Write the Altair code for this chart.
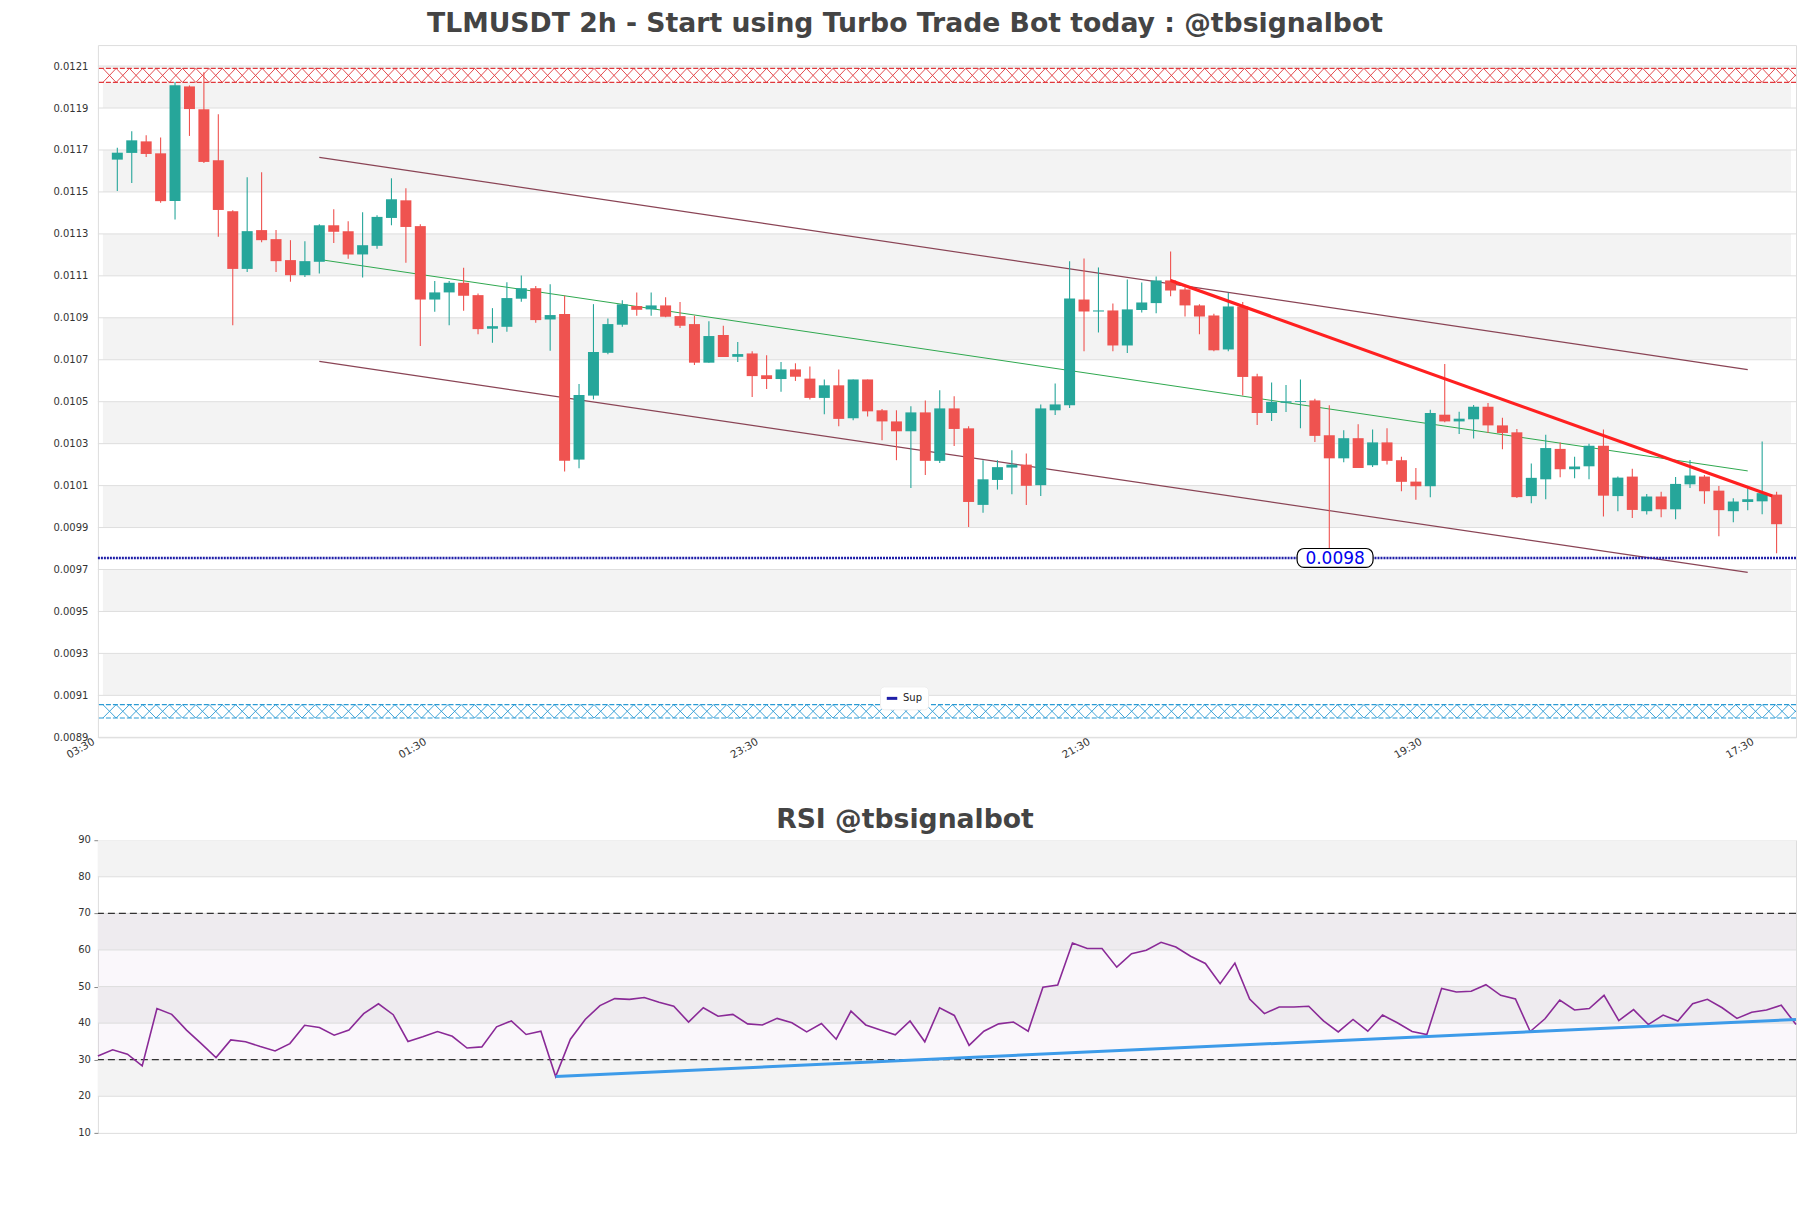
import altair as alt
import pandas as pd
import numpy as np

# ---------------- data ----------------
opens = [0.011654,0.011686,0.011741,0.011684,0.011457,0.012003,0.011894,0.011651,0.011408,0.011133,
         0.011318,0.011275,0.011175,0.011103,0.011167,0.011341,0.011313,0.011202,0.011243,0.011376,
         0.011460,0.011337,0.010987,0.011021,0.011067,0.011008,0.010848,0.010857,0.010991,0.011041,
         0.010892,0.010918,0.010224,0.010529,0.010733,0.010867,0.010956,0.010940,0.010959,0.010908,
         0.010870,0.010686,0.010818,0.010714,0.010730,0.010626,0.010608,0.010654,0.010610,0.010518,
         0.010578,0.010421,0.010606,0.010459,0.010406,0.010359,0.010449,0.010218,0.010468,0.010373,
         0.010008,0.010127,0.010186,0.010200,0.010102,0.010459,0.010483,0.010987,0.010930,0.010935,
         0.010768,0.010937,0.010970,0.011078,0.011035,0.010959,0.010911,0.010749,0.010954,0.010621,
         0.010446,0.010495,0.010499,0.010506,0.010340,0.010230,0.010326,0.010197,0.010306,0.010221,
         0.010119,0.010097,0.010438,0.010406,0.010416,0.010476,0.010387,0.010354,0.010050,0.010130,
         0.010275,0.010178,0.010192,0.010290,0.010050,0.010143,0.009978,0.010048,0.009987,0.010106,
         0.010143,0.010076,0.009978,0.010022,0.010025,0.010057]
highs = [0.011711,0.011789,0.011770,0.011760,0.012024,0.012008,0.012071,0.011870,0.011413,0.011570,
         0.011594,0.011318,0.011270,0.011265,0.011346,0.011418,0.011360,0.011403,0.011389,0.011565,
         0.011518,0.011346,0.011075,0.011075,0.011138,0.011016,0.010946,0.011070,0.011102,0.011052,
         0.011060,0.011005,0.010584,0.010965,0.010897,0.010984,0.011021,0.011021,0.010998,0.010975,
         0.010910,0.010884,0.010862,0.010784,0.010740,0.010721,0.010689,0.010683,0.010668,0.010606,
         0.010654,0.010606,0.010606,0.010465,0.010459,0.010478,0.010506,0.010554,0.010526,0.010383,
         0.010221,0.010221,0.010268,0.010253,0.010487,0.010587,0.011170,0.011183,0.011140,0.010968,
         0.011083,0.011068,0.011097,0.011216,0.011046,0.010964,0.010919,0.011019,0.010975,0.010633,
         0.010592,0.010580,0.010606,0.010514,0.010483,0.010364,0.010392,0.010368,0.010373,0.010237,
         0.010184,0.010462,0.010680,0.010452,0.010484,0.010494,0.010424,0.010370,0.010205,0.010343,
         0.010306,0.010237,0.010300,0.010367,0.010143,0.010180,0.010060,0.010071,0.010141,0.010222,
         0.010151,0.010098,0.010040,0.010087,0.010310,0.010071]
lows = [0.011505,0.011543,0.011667,0.011448,0.011368,0.011767,0.011638,0.011286,0.010865,0.011118,
        0.011260,0.011118,0.011072,0.011095,0.011111,0.011257,0.011181,0.011092,0.011229,0.011341,
        0.011162,0.010765,0.010929,0.010865,0.010933,0.010821,0.010781,0.010833,0.010976,0.010876,
        0.010743,0.010167,0.010183,0.010511,0.010726,0.010857,0.010910,0.010910,0.010902,0.010851,
        0.010675,0.010686,0.010713,0.010689,0.010522,0.010560,0.010548,0.010599,0.010511,0.010440,
        0.010383,0.010411,0.010430,0.010316,0.010221,0.010089,0.010150,0.010208,0.010289,0.009903,
        0.009970,0.010081,0.010059,0.010008,0.010050,0.010437,0.010470,0.010740,0.010830,0.010741,
        0.010732,0.010925,0.010922,0.011003,0.010906,0.010821,0.010741,0.010741,0.010530,0.010389,
        0.010408,0.010451,0.010374,0.010308,0.009800,0.010211,0.010184,0.010189,0.010200,0.010073,
        0.010032,0.010045,0.010402,0.010346,0.010325,0.010351,0.010273,0.010041,0.010016,0.010035,
        0.010140,0.010135,0.010130,0.009953,0.009978,0.009946,0.009962,0.009949,0.009940,0.010089,
        0.010014,0.009859,0.009925,0.009983,0.009964,0.009778]
closes = [0.011687,0.011746,0.011681,0.011456,0.012008,0.011895,0.011643,0.011414,0.011133,0.011313,
          0.011270,0.011170,0.011103,0.011170,0.011341,0.011310,0.011202,0.011246,0.011381,0.011465,
          0.011333,0.010987,0.011021,0.011067,0.011005,0.010846,0.010860,0.010994,0.011041,0.010889,
          0.010913,0.010219,0.010532,0.010737,0.010870,0.010964,0.010938,0.010959,0.010905,0.010862,
          0.010686,0.010813,0.010713,0.010727,0.010622,0.010608,0.010654,0.010619,0.010518,0.010578,
          0.010418,0.010606,0.010454,0.010406,0.010359,0.010449,0.010218,0.010468,0.010370,0.010022,
          0.010130,0.010188,0.010200,0.010099,0.010468,0.010487,0.010992,0.010930,0.010935,0.010768,
          0.010940,0.010973,0.011078,0.011030,0.010959,0.010906,0.010745,0.010954,0.010618,0.010446,
          0.010499,0.010502,0.010503,0.010337,0.010230,0.010326,0.010184,0.010306,0.010218,0.010118,
          0.010097,0.010446,0.010406,0.010419,0.010476,0.010387,0.010351,0.010045,0.010137,0.010279,
          0.010178,0.010191,0.010290,0.010052,0.010138,0.009984,0.010048,0.009987,0.010108,0.010148,
          0.010073,0.009983,0.010024,0.010035,0.010064,0.009916]
rsi = [31.0,32.7,31.5,28.3,44.0,42.4,38.1,34.4,30.6,35.4,34.9,33.6,32.4,34.4,39.4,38.8,36.7,38.1,42.6,45.3,
       42.3,35.0,36.3,37.7,36.4,33.2,33.5,39.0,40.6,36.9,37.8,25.4,35.6,41.0,44.8,46.7,46.5,47.0,45.7,44.6,
       40.3,44.2,41.9,42.4,39.8,39.5,41.3,40.1,37.6,39.9,35.6,43.3,39.5,38.1,36.8,40.6,34.9,44.2,42.1,33.9,
       37.8,39.8,40.3,37.8,49.8,50.4,61.9,60.4,60.4,55.3,59.0,59.9,62.1,60.8,58.3,56.3,50.8,56.4,46.6,42.6,
       44.4,44.4,44.6,40.6,37.6,41.0,37.8,42.2,40.1,37.7,36.9,49.5,48.5,48.7,50.5,47.6,46.6,37.7,41.2,46.3,
       43.6,44.0,47.6,40.7,43.7,39.6,42.2,40.6,45.3,46.5,44.2,41.3,43.0,43.6,44.9,39.6]

tick_idx = [0, 23, 46, 69, 92, 115]
tick_lbl = ["03:30", "01:30", "23:30", "21:30", "19:30", "17:30"]
price_ticks = [0.0089, 0.0091, 0.0093, 0.0095, 0.0097, 0.0099, 0.0101, 0.0103, 0.0105,
               0.0107, 0.0109, 0.0111, 0.0113, 0.0115, 0.0117, 0.0119, 0.0121]
grey_bands_lo = [0.0091, 0.0095, 0.0099, 0.0103, 0.0107, 0.0111, 0.0115, 0.0119]
grey_bands_hi = [0.0093, 0.0097, 0.0101, 0.0105, 0.0109, 0.0113, 0.0117, 0.0121]

# channel and trend lines (index, price)
upper_x = [15, 114]; upper_y = [0.011665, 0.010653]
lower_x = [15, 114]; lower_y = [0.010692, 0.009686]
mid_x = [15, 114];   mid_y = [0.011178, 0.010170]
red_x = [74, 115.7]; red_y = [0.011078, 0.010050]

support = 0.009755
support_label = "0.0098"
support_label_idx = 85.4
res_band = [0.012022, 0.012089]
sup_band = [0.008992, 0.009056]

rsi_ticks = [10, 15, 20, 25, 30, 35, 40, 45, 50, 55, 60, 65, 70, 75, 80, 85, 90]
rsi_label_vals = [10, 20, 30, 40, 50, 60, 70, 80, 90]
rsi_label_txt = ["10", "20", "30", "40", "50", "60", "70", "80", "90"]
rsi_grid = [20, 30, 40, 50, 60, 70, 80]
rsi_bands_lo = [20, 40, 60, 80]
rsi_bands_hi = [30, 50, 70, 90]
rsi_trend_x = [32, 116]; rsi_trend_y = [25.4, 41.0]

X_MAX = 117
W, H1, H2 = 1700, 693, 293
FONT = "DejaVu Sans"
GREEN, RED = "#26a69a", "#ef5350"

# ---------------- frames ----------------
n = len(opens)
candles = pd.DataFrame({"i": np.arange(1, n + 1), "open": opens, "high": highs,
                        "low": lows, "close": closes})
bands = pd.DataFrame({"lo": grey_bands_lo, "hi": grey_bands_hi, "x0": 0, "x1": X_MAX})
grid = pd.DataFrame({"p": price_ticks})

xs = alt.Scale(domain=[0, X_MAX], nice=False, zero=False)
ys = alt.Scale(domain=[0.0089, 0.0122], nice=False, zero=False)

label_expr = " : ".join(f"datum.value == {i} ? '{l}'" for i, l in zip(tick_idx, tick_lbl)) + " : ''"
x_axis = alt.Axis(values=tick_idx, labelExpr=label_expr, labelAngle=330, labelAlign="right",
                  labelBaseline="top", labelFontSize=10.5, labelColor="#333", labelFont=FONT,
                  ticks=False, domain=False, grid=False, labelPadding=-1, labelOffset=-12,
                  labelOverlap=False, title=None)
y_axis = alt.Axis(values=price_ticks, format=".4f", labelFontSize=10, labelColor="#333",
                  labelFont=FONT, ticks=False, domain=False, grid=False, labelPadding=10,
                  labelOverlap=False, minExtent=80, maxExtent=80, title=None)

band_layer = alt.Chart(bands).mark_rect(color="#f3f3f3").encode(
    x=alt.X("x0:Q", scale=xs, axis=x_axis), x2="x1:Q",
    y=alt.Y("lo:Q", scale=ys, axis=y_axis), y2="hi:Q")
grid_layer = alt.Chart(grid).mark_rule(color="#dedede", strokeWidth=1).encode(
    y=alt.Y("p:Q", scale=ys))


def hatch(lo, hi, key):
    step = 0.92
    xv = np.arange(0, X_MAX + 2 * step, step)
    rows = []
    for ph in (0, 1):
        for k, x in enumerate(xv):
            rows.append({"x": x, "y": hi if (k + ph) % 2 == 0 else lo, "g": f"{key}{ph}", "k": k})
    return pd.DataFrame(rows)


def hatch_layers(lo, hi, color, key):
    box = alt.Chart(pd.DataFrame({"lo": [lo], "hi": [hi], "x0": [0], "x1": [X_MAX]})).mark_rect(
        color="white").encode(x=alt.X("x0:Q", scale=xs), x2="x1:Q",
                              y=alt.Y("lo:Q", scale=ys), y2="hi:Q")
    lines = alt.Chart(hatch(lo, hi, key)).mark_line(color=color, strokeWidth=0.9, clip=True).encode(
        x=alt.X("x:Q", scale=xs), y=alt.Y("y:Q", scale=ys), detail="g:N", order="k:Q")
    edges = alt.Chart(pd.DataFrame({"p": [lo, hi]})).mark_rule(
        color=color, strokeWidth=1.2, strokeDash=[5, 2]).encode(y=alt.Y("p:Q", scale=ys))
    return [box, lines, edges]


def seg(xv, yv, color, width):
    return alt.Chart(pd.DataFrame({"x": xv, "y": yv})).mark_line(
        color=color, strokeWidth=width).encode(x=alt.X("x:Q", scale=xs), y=alt.Y("y:Q", scale=ys))


col = alt.condition("datum.close >= datum.open", alt.value(GREEN), alt.value(RED))
wicks = alt.Chart(candles).mark_rule(strokeWidth=1.1).encode(
    x=alt.X("i:Q", scale=xs), y=alt.Y("low:Q", scale=ys), y2="high:Q", color=col)
bodies = alt.Chart(candles).mark_bar(width=11).encode(
    x=alt.X("i:Q", scale=xs), y=alt.Y("open:Q", scale=ys), y2="close:Q", color=col)

sup_df = pd.DataFrame({"p": [support], "name": ["Sup"]})
sup_line = alt.Chart(sup_df).mark_rule(strokeWidth=2.5, strokeDash=[2, 1]).encode(
    y=alt.Y("p:Q", scale=ys),
    color=alt.Color("name:N", scale=alt.Scale(domain=["Sup"], range=["#1f1fa8"]),
                    legend=alt.Legend(title=None, orient="none", legendX=783, legendY=642,
                                      symbolType="stroke", symbolStrokeWidth=3, symbolSize=110,
                                      labelFontSize=10, labelFont=FONT, labelColor="#222",
                                      fillColor="white", padding=5, cornerRadius=4,
                                      strokeColor="#eeeeee")))
lab_df = pd.DataFrame({"x": [support_label_idx], "p": [support], "t": [support_label]})
lab_box = alt.Chart(lab_df).mark_rect(width=76, height=19, cornerRadius=7, fill="white",
                                      stroke="black", strokeWidth=1.2).encode(
    x=alt.X("x:Q", scale=xs), y=alt.Y("p:Q", scale=ys))
lab_txt = alt.Chart(lab_df).mark_text(fontSize=17, color="#0000ee", font=FONT, baseline="middle",
                                      dy=1).encode(
    x=alt.X("x:Q", scale=xs), y=alt.Y("p:Q", scale=ys), text="t:N")

top = alt.layer(
    band_layer, grid_layer,
    *hatch_layers(res_band[0], res_band[1], "#e0383c", "r"),
    *hatch_layers(sup_band[0], sup_band[1], "#2a9ad4", "b"),
    seg(upper_x, upper_y, "#8a4455", 1.2),
    seg(lower_x, lower_y, "#8a4455", 1.2),
    seg(mid_x, mid_y, "#2ea84e", 1.0),
    wicks, bodies,
    seg(red_x, red_y, "#ff2020", 3.2),
    sup_line, lab_box, lab_txt,
).properties(
    width=W, height=H1,
    title=alt.TitleParams("TLMUSDT 2h - Start using Turbo Trade Bot today : @tbsignalbot",
                          fontSize=26.7, fontWeight="bold", color="#444", font=FONT,
                          anchor="middle", dx=-42, offset=7.5))

# ---------------- RSI panel ----------------
rx = alt.Scale(domain=[1, n], nice=False, zero=False)
ry = alt.Scale(domain=[10, 90], nice=False, zero=False)
rsi_df = pd.DataFrame({"i": np.arange(1, n + 1), "rsi": rsi})
rsi_axis = alt.Axis(values=rsi_ticks, labels=False, tickSize=4, tickColor="#888",
                    domain=False, grid=False, minExtent=80, maxExtent=80, title=None)

rb = pd.DataFrame({"lo": rsi_bands_lo, "hi": rsi_bands_hi, "x0": 1, "x1": n})
r_bands = alt.Chart(rb).mark_rect(color="#f3f3f3").encode(
    x=alt.X("x0:Q", scale=rx, axis=None), x2="x1:Q",
    y=alt.Y("lo:Q", scale=ry, axis=rsi_axis), y2="hi:Q")
r_hatch = alt.Chart(pd.DataFrame({"lo": [30], "hi": [70], "x0": [1], "x1": [n]})).mark_rect(
    color="#9b5fae", opacity=0.05).encode(x=alt.X("x0:Q", scale=rx), x2="x1:Q",
                                           y=alt.Y("lo:Q", scale=ry), y2="hi:Q")
r_grid = alt.Chart(pd.DataFrame({"p": rsi_grid})).mark_rule(color="#dedede").encode(
    y=alt.Y("p:Q", scale=ry))
r_labels = alt.Chart(pd.DataFrame({"p": rsi_label_vals, "t": rsi_label_txt})).mark_text(
    align="right", baseline="middle", fontSize=10, color="#333", font=FONT, clip=False).encode(
    y=alt.Y("p:Q", scale=ry), x=alt.value(-7), text="t:N")
r_dash = alt.Chart(pd.DataFrame({"p": [30, 70]})).mark_rule(
    color="#333", strokeWidth=1.2, strokeDash=[7, 4]).encode(y=alt.Y("p:Q", scale=ry))
r_line = alt.Chart(rsi_df).mark_line(color="#8a2a97", strokeWidth=1.6).encode(
    x=alt.X("i:Q", scale=rx), y=alt.Y("rsi:Q", scale=ry))
r_trend = alt.Chart(pd.DataFrame({"x": rsi_trend_x, "y": rsi_trend_y})).mark_line(
    color="#3d9be9", strokeWidth=3).encode(x=alt.X("x:Q", scale=rx), y=alt.Y("y:Q", scale=ry))

bottom = alt.layer(r_bands, r_hatch, r_grid, r_labels, r_dash, r_line, r_trend).properties(
    width=W, height=H2,
    title=alt.TitleParams("RSI @tbsignalbot", fontSize=26.7, fontWeight="bold", color="#444",
                          font=FONT, anchor="middle", dx=-42, offset=2))

chart = alt.vconcat(top, bottom, spacing=44).properties(
    padding={"left": 9, "top": 1.5, "right": 0, "bottom": 5}
).configure_view(stroke="#d8d8d8", strokeWidth=1).configure_axis(
    labelOverlap=False).configure(background="white")

chart.save("out.html", embed_options={"renderer": "svg", "actions": False})
